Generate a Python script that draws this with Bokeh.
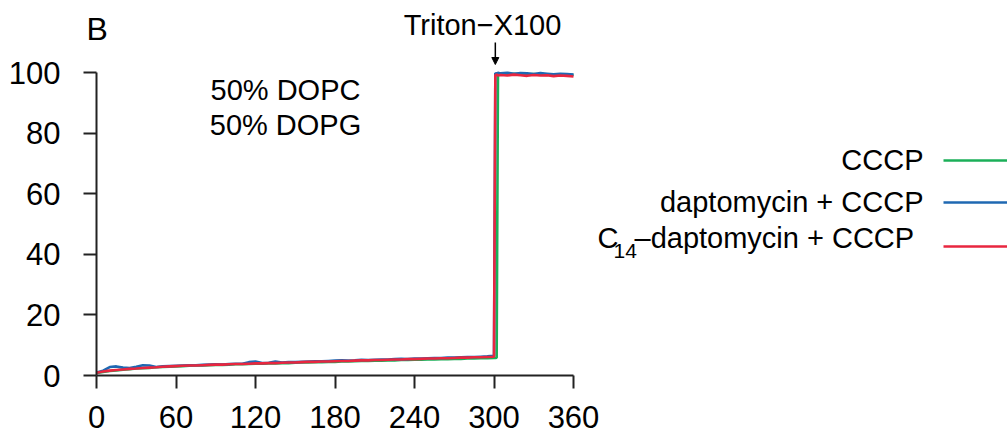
from bokeh.plotting import figure
from bokeh.models import Range1d, FixedTicker, Label, Arrow, NormalHead, LinearAxis
from bokeh.embed import file_html
from bokeh.resources import INLINE

# ---- data ----
time_s = [0, 5, 10, 15, 20, 25, 30, 35, 40, 45, 50, 55, 60, 65, 70, 75, 80, 85, 90, 95,
          100, 105, 110, 115, 120, 125, 130, 135, 140, 145, 150, 155, 160, 165, 170, 175,
          180, 185, 190, 195, 200, 205, 210, 215, 220, 225, 230, 235, 240, 245, 250, 255,
          260, 265, 270, 275, 280, 285, 290, 295, 300, 301, 302, 303,
          305, 310, 315, 320, 325, 330, 335, 340, 345, 350, 355, 360]

cccp = [0.8, 1.2, 1.5, 1.7, 1.9, 2.1, 2.3, 2.4, 2.5, 2.7, 2.8, 2.9, 3.0, 3.1, 3.2, 3.3, 3.3, 3.4, 3.5, 3.5,
        3.6, 3.7, 3.7, 3.8, 3.9, 3.9, 4.0, 4.0, 4.1, 4.1, 4.2, 4.3, 4.3, 4.4, 4.4, 4.5,
        4.5, 4.6, 4.6, 4.7, 4.8, 4.8, 4.9, 4.9, 5.0, 5.0, 5.1, 5.1, 5.2, 5.2, 5.3, 5.3,
        5.4, 5.4, 5.5, 5.5, 5.6, 5.6, 5.7, 5.7, 5.8, 5.8, 5.9, 99.4,
        99.5, 99.4, 99.6, 99.3, 99.4, 99.5, 99.3, 99.2, 99.4, 99.1, 99.3, 99.2]

dapto_cccp = [1.0, 1.6, 2.8, 3.0, 2.6, 2.5, 2.9, 3.4, 3.3, 2.8, 3.0, 3.1, 3.2, 3.3, 3.4, 3.4, 3.5, 3.6, 3.7, 3.6,
              3.8, 3.9, 3.9, 4.4, 4.6, 4.1, 4.2, 4.6, 4.3, 4.4, 4.4, 4.5, 4.6, 4.7, 4.7, 4.8,
              4.9, 5.0, 4.9, 5.0, 5.2, 5.1, 5.2, 5.3, 5.3, 5.4, 5.5, 5.4, 5.6, 5.6, 5.7, 5.8,
              5.8, 5.9, 5.9, 6.0, 6.1, 6.1, 6.2, 6.3, 6.5, 99.8, 99.6, 99.9,
              99.7, 99.9, 99.6, 99.8, 99.7, 99.5, 99.8, 99.6, 99.4, 99.6, 99.5, 99.3]

c14_dapto_cccp = [0.9, 1.3, 1.6, 1.8, 2.0, 2.2, 2.3, 2.5, 2.6, 2.7, 2.9, 3.0, 3.1, 3.2, 3.3, 3.3, 3.4, 3.5, 3.6, 3.6,
                  3.7, 3.8, 3.8, 3.9, 4.0, 4.0, 4.1, 4.1, 4.2, 4.3, 4.3, 4.4, 4.5, 4.5, 4.6, 4.6,
                  4.7, 4.8, 4.8, 4.9, 5.0, 5.0, 5.1, 5.1, 5.2, 5.3, 5.3, 5.4, 5.4, 5.5, 5.6, 5.6,
                  5.7, 5.7, 5.8, 5.9, 5.9, 6.0, 6.0, 6.1, 6.2, 99.1, 99.3, 99.0,
                  99.2, 99.0, 99.3, 99.1, 98.9, 99.2, 99.0, 99.1, 98.8, 99.0, 98.9, 98.7]

x_ticks = [0, 60, 120, 180, 240, 300, 360]
y_ticks = [0, 20, 40, 60, 80, 100]
x_limits = (0, 360)
y_limits = (0, 100)
triton_time = 301

series_names = ["CCCP", "daptomycin + CCCP", "C14-daptomycin + CCCP"]
colors = ["#1BAF58", "#1F68B2", "#E8263F"]

FONT = "Liberation Sans"

# ---- layout (pixel geometry of the data region inside the canvas) ----
W, H = 1007, 436
FL, FR, FT, FB = 96, 573, 72, 375  # pixel positions of x=0, x=360, y=100, y=0


def dx(px):
    return x_limits[0] + (px - FL) / (FR - FL) * (x_limits[1] - x_limits[0])


def dy(py):
    return y_limits[0] + (FB - py) / (FB - FT) * (y_limits[1] - y_limits[0])


p = figure(width=W, height=H, output_backend="svg", toolbar_location=None,
           x_range=Range1d(dx(0), dx(W)), y_range=Range1d(dy(H), dy(0)),
           x_axis_type=None, y_axis_type=None,
           min_border_left=0, min_border_right=0, min_border_top=0, min_border_bottom=0)
p.outline_line_color = None
p.grid.visible = False
p.background_fill_color = "white"
p.border_fill_color = "white"

xaxis = LinearAxis(fixed_location=0, bounds=x_limits, ticker=FixedTicker(ticks=x_ticks))
yaxis = LinearAxis(fixed_location=0, bounds=y_limits, ticker=FixedTicker(ticks=y_ticks))
for ax in (xaxis, yaxis):
    ax.axis_line_color = "#222222"
    ax.axis_line_width = 2
    ax.major_tick_line_color = "#222222"
    ax.major_tick_line_width = 2
    ax.major_tick_out = 13
    ax.major_tick_in = 0
    ax.minor_tick_out = 0
    ax.minor_tick_in = 0
    ax.major_label_text_font = FONT
    ax.major_label_text_font_size = "31px"
    ax.major_label_text_color = "black"
xaxis.major_label_standoff = 17
yaxis.major_label_standoff = 23
p.add_layout(xaxis, "below")
p.add_layout(yaxis, "left")

data_series = [cccp, dapto_cccp, c14_dapto_cccp]
for vals, col in zip(data_series, colors):
    p.line(time_s, vals, line_color=col, line_width=2.6)


def lab(text, px, py, align="left", size=29):
    # py = desired baseline pixel; shift compensates Bokeh's baseline placement
    p.add_layout(Label(x=dx(px), y=dy(py - 0.35 * size), text=text, text_align=align,
                       text_baseline="alphabetic", text_font=FONT,
                       text_font_size=f"{size}px", text_color="black"))


lab("B", 86, 40, size=32)
lab("Triton\u2212X100", 482, 35, align="center")
lab("50% DOPC", 285, 100, align="center")
lab("50% DOPG", 285, 135, align="center")

p.add_layout(Arrow(x_start=triton_time, y_start=dy(42), x_end=triton_time, y_end=dy(64),
                   line_color="black", line_width=1.5,
                   end=NormalHead(size=7, fill_color="black", line_color="black")))

# legend (label left of line)
lab("CCCP", 923, 170, align="right")
lab("daptomycin + CCCP", 923, 212, align="right")
lab("C", 597, 248)
lab("14", 613, 258, size=21)
lab("\u2013daptomycin + CCCP", 634, 248)

for col, ly in zip(colors, [160, 202, 246]):
    p.add_layout(Arrow(x_start=dx(943), y_start=dy(ly), x_end=dx(1012), y_end=dy(ly),
                       line_color=col, line_width=2.5, end=None))

open("out.html", "w").write(file_html(p, INLINE))
